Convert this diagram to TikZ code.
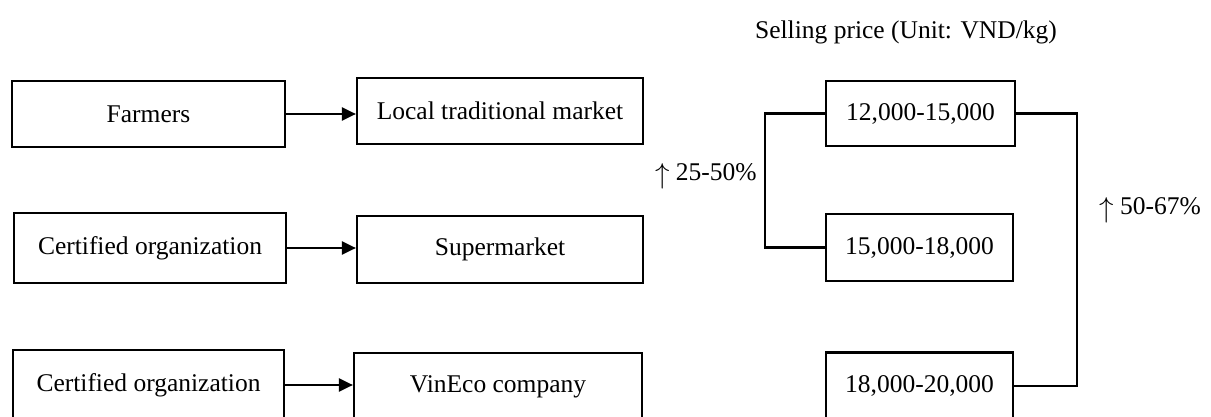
\documentclass[tikz,border=0pt]{standalone}
\usepackage{fontspec}
\setmainfont{Liberation Serif}
\usetikzlibrary{arrows.meta}
\newcommand{\risearrow}{\raisebox{-0.12em}{\scalebox{1.2}{$\uparrow$}}}
\begin{document}
\begin{tikzpicture}[x=0.5pt,y=-0.5pt,
  box/.style={draw,line width=1.1pt,inner sep=0pt,align=center,
    font=\fontsize{12.75}{15}\selectfont},
  lbl/.style={inner sep=0pt,font=\fontsize{12.75}{15}\selectfont},
  flow/.style={line width=1.1pt,-{Triangle[length=7pt,width=6.5pt]}},
  link/.style={line width=1.1pt}]
\useasboundingbox (0,0) rectangle (1211,417);
\begin{scope}
\clip (0,0) rectangle (1211,417);
% sources and their sales channels
\node[box,minimum width=136.5pt,minimum height=33pt] (farm) at (148.5,114) {Farmers};
\node[box,minimum width=143pt,minimum height=33pt] (local) at (500,111) {Local traditional market};
\node[box,minimum width=136pt,minimum height=35pt] (cert1) at (150,248) {Certified organization};
\node[box,minimum width=143pt,minimum height=33.5pt] (super) at (500,249.5) {Supermarket};
\node[box,minimum width=135.5pt,minimum height=35pt] (cert2) at (148.5,385) {Certified organization};
\node[box,minimum width=144pt,minimum height=33.5pt] (vin) at (498,386.5) {VinEco company};
% price ranges
\node[lbl] (title) at (906,32) {Selling price (Unit: VND/kg)};
\node[box,minimum width=94.5pt,minimum height=32.5pt] (p1) at (920.5,113.5) {12,000-15,000};
\node[box,minimum width=93.5pt,minimum height=33.5pt] (p2) at (919.5,247.5) {15,000-18,000};
\node[box,minimum width=93.5pt,minimum height=33.5pt] (p3) at (919.5,386) {18,000-20,000};
% channel arrows
\draw[flow] (farm.east) -- (farm.east -| local.west);
\draw[flow] (cert1.east) -- (cert1.east -| super.west);
\draw[flow] (cert2.east) -- (cert2.east -| vin.west);
% brackets between price ranges
\coordinate (lb) at (765,0);
\coordinate (rb) at (1077,0);
\draw[link] (p1.west) -- (p1.west -| lb) -- (p2.west -| lb) -- (p2.west);
\draw[link] (p1.east) -- (p1.east -| rb) -- (p3.east -| rb) -- (p3.east);
\node[lbl,anchor=east] (up1) at (757,176) {\risearrow\ 25-50\%};
\node[lbl,anchor=west] (up2) at (1099,210) {\risearrow\ 50-67\%};
\end{scope}
\end{tikzpicture}
\end{document}
